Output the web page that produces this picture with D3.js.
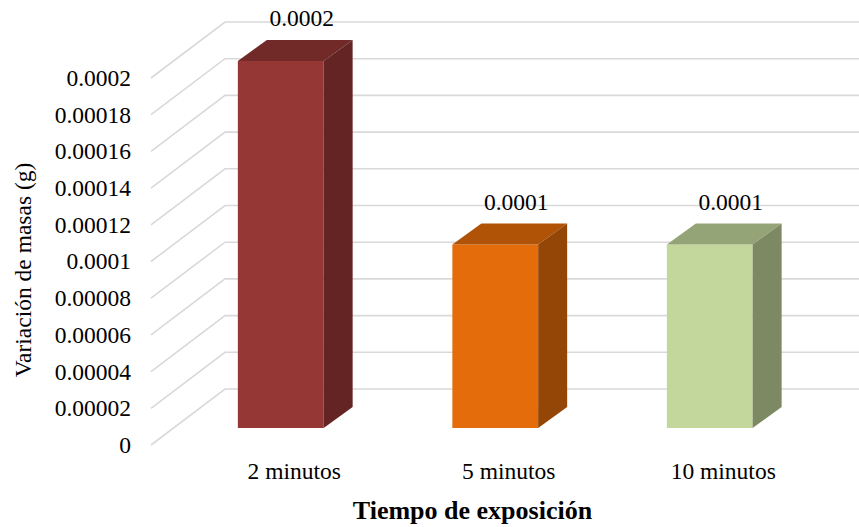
<!DOCTYPE html>
<html>
<head>
<meta charset="utf-8">
<script src="https://cdn.jsdelivr.net/npm/d3@7"></script>
<style>
  html, body { margin: 0; padding: 0; background: #fff; }
  svg { display: block; }
</style>
</head>
<body>
<svg id="chart" width="859" height="527"></svg>
<script>
// Data
const categories = ["2 minutos", "5 minutos", "10 minutos"];
const values = [0.0002, 0.0001, 0.0001];
const valueLabels = ["0.0002", "0.0001", "0.0001"];
const yTicks = [0, 0.00002, 0.00004, 0.00006, 0.00008, 0.0001, 0.00012, 0.00014, 0.00016, 0.00018, 0.0002];
const yTickLabels = ["0", "0.00002", "0.00004", "0.00006", "0.00008", "0.0001", "0.00012", "0.00014", "0.00016", "0.00018", "0.0002"];
const frontColors = ["#953735", "#E46C0A", "#C3D69B"];
const topColors = ["#722A29", "#B05307", "#95A476"];
const sideColors = ["#632423", "#944606", "#7C8963"];

const FONT = "Liberation Serif";
const svg = d3.select("#chart");
const W = 859;

// Oblique projection of the floor / back wall
const depthX = 74, depthY = 56;          // floor depth offset
const barShiftX = 22.5, barShiftY = 17;  // bar front-face offset into floor
const barDX = 29, barDY = 21;            // bar depth

const x = d3.scaleBand()
  .domain(categories)
  .range([151, 794.5])
  .paddingInner(0.6)
  .paddingOuter(0.3);

const y = d3.scaleLinear()
  .domain([0, 0.0002])
  .range([445, 78]);

// Gridlines: diagonal along the side wall, then horizontal along the back wall
svg.append("g").selectAll("path")
  .data(yTicks)
  .join("path")
  .attr("d", t => {
    const y0 = y(t);
    return `M151,${y0} L${151 + depthX},${y0 - depthY} L${W + 5},${y0 - depthY}`;
  })
  .attr("fill", "none")
  .attr("stroke", "#d9d9d9")
  .attr("stroke-width", 1.6);

// Y tick labels
svg.append("g").selectAll("text")
  .data(yTicks)
  .join("text")
  .attr("x", 131)
  .attr("y", t => y(t))
  .attr("dy", "0.34em")
  .attr("text-anchor", "end")
  .attr("font-family", FONT)
  .attr("font-size", 23.5)
  .text((t, i) => yTickLabels[i]);

// Bars (front, top, side faces)
const bars = svg.append("g").selectAll("g")
  .data(categories.map((c, i) => ({ c, v: values[i], i })))
  .join("g");

bars.each(function(d) {
  const g = d3.select(this);
  const xl = x(d.c) + barShiftX;
  const xr = xl + x.bandwidth();
  const yt = y(d.v) - barShiftY;
  const yb = y(0) - barShiftY;
  g.append("rect")
    .attr("x", xl).attr("y", yt)
    .attr("width", xr - xl).attr("height", yb - yt)
    .attr("fill", frontColors[d.i]);
  g.append("path")
    .attr("d", `M${xl},${yt} L${xl + barDX},${yt - barDY} L${xr + barDX},${yt - barDY} L${xr},${yt} Z`)
    .attr("fill", topColors[d.i]);
  g.append("path")
    .attr("d", `M${xr},${yt} L${xr + barDX},${yt - barDY} L${xr + barDX},${yb - barDY} L${xr},${yb} Z`)
    .attr("fill", sideColors[d.i]);
});

// Value labels above bars
svg.append("g").selectAll("text")
  .data(values)
  .join("text")
  .attr("x", (v, i) => x(categories[i]) + barShiftX + x.bandwidth() / 2 + 21)
  .attr("y", v => y(v) - barShiftY - barDY - 14)
  .attr("text-anchor", "middle")
  .attr("font-family", FONT)
  .attr("font-size", 23.5)
  .text((v, i) => valueLabels[i]);

// Category labels
svg.append("g").selectAll("text")
  .data(categories)
  .join("text")
  .attr("x", c => x(c) + x.bandwidth() / 2 + 36)
  .attr("y", 479)
  .attr("text-anchor", "middle")
  .attr("font-family", FONT)
  .attr("font-size", 23.5)
  .text(c => c);

// Axis titles
svg.append("text")
  .attr("transform", "translate(31,270) rotate(-90)")
  .attr("text-anchor", "middle")
  .attr("font-family", FONT)
  .attr("font-size", 23.5)
  .text("Variación de masas (g)");

svg.append("text")
  .attr("x", 472.5)
  .attr("y", 519)
  .attr("text-anchor", "middle")
  .attr("font-family", FONT)
  .attr("font-size", 26)
  .attr("font-weight", "bold")
  .text("Tiempo de exposición");
</script>
</body>
</html>
